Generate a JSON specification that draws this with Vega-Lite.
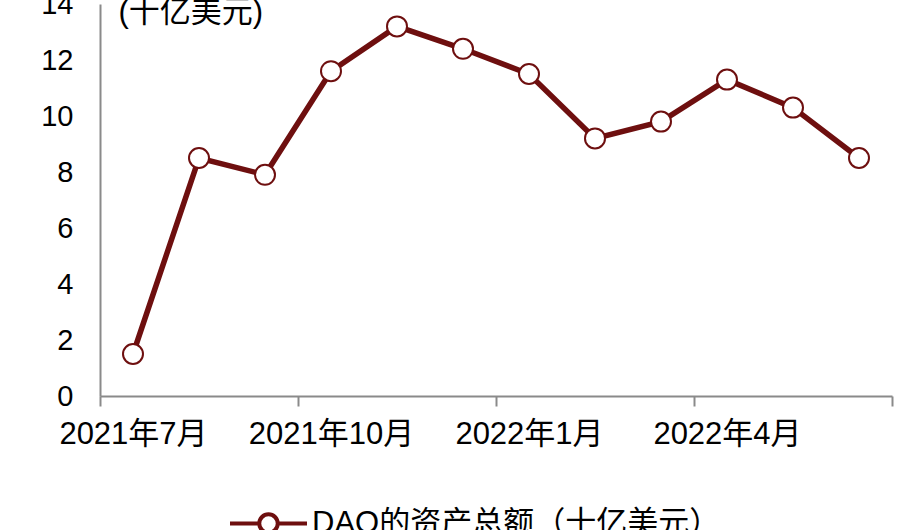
{
  "$schema": "https://vega.github.io/schema/vega-lite/v6.json",
  "autosize": "none",
  "width": 792,
  "height": 392,
  "padding": {"left": 100, "top": 4, "right": 28, "bottom": 134},
  "background": "white",
  "config": {
    "view": {"stroke": null},
    "font": "Liberation Sans, Noto Sans CJK SC",
    "axis": {"labelFont": "Liberation Sans, Noto Sans CJK SC", "titleFont": "Liberation Sans, Noto Sans CJK SC", "labelColor": "#000", "titleColor": "#000", "domainColor": "#8a8a8a", "tickColor": "#8a8a8a", "domainWidth": 2, "tickWidth": 2, "grid": false},
    "legend": {"labelFont": "Liberation Sans, Noto Sans CJK SC"}
  },
  "data": {
    "values": [
      {"month": "2021年7月", "idx": 0, "value": 1.5},
      {"month": "2021年8月", "idx": 1, "value": 8.5},
      {"month": "2021年9月", "idx": 2, "value": 7.9},
      {"month": "2021年10月", "idx": 3, "value": 11.6},
      {"month": "2021年11月", "idx": 4, "value": 13.2},
      {"month": "2021年12月", "idx": 5, "value": 12.4},
      {"month": "2022年1月", "idx": 6, "value": 11.5},
      {"month": "2022年2月", "idx": 7, "value": 9.2},
      {"month": "2022年3月", "idx": 8, "value": 9.8},
      {"month": "2022年4月", "idx": 9, "value": 11.3},
      {"month": "2022年5月", "idx": 10, "value": 10.3},
      {"month": "2022年6月", "idx": 11, "value": 8.5}
    ]
  },
  "encoding": {
    "x": {
      "field": "idx", "type": "quantitative",
      "scale": {"domain": [-0.5, 11.5], "nice": false, "zero": false},
      "axis": {
        "title": null,
        "values": [-0.5, 0, 2.5, 3, 5.5, 6, 8.5, 9, 11.5],
        "labelExpr": "datum.value == 0 ? '2021年7月' : datum.value == 3 ? '2021年10月' : datum.value == 6 ? '2022年1月' : datum.value == 9 ? '2022年4月' : ''",
        "tickOpacity": {"condition": {"test": "datum.value % 1 == 0", "value": 0}, "value": 1},
        "tickSize": 10,
        "labelPadding": 13,
        "labelFontSize": 31,
        "labelOverlap": false,
        "labelFlush": false,
        "labelBound": false
      }
    },
    "y": {
      "field": "value", "type": "quantitative",
      "scale": {"domain": [0, 14], "nice": false},
      "axis": {
        "values": [0, 2, 4, 6, 8, 10, 12, 14],
        "ticks": false,
        "labelPadding": 27,
        "labelFontSize": 29,
        "title": "(十亿美元)",
        "titleAngle": 0,
        "titleAlign": "left",
        "titleBaseline": "alphabetic",
        "titleX": 18,
        "titleY": 17,
        "titleFontSize": 31,
        "titleFontWeight": "normal"
      }
    },
    "stroke": {
      "datum": "DAO的资产总额（十亿美元）",
      "type": "nominal",
      "scale": {"range": ["#6e0f0f"]},
      "legend": {
        "title": null,
        "orient": "none",
        "legendX": 128,
        "legendY": 479,
        "symbolType": "M-1,0L-0.24,0M0.24,0L1,0M-0.24,0A0.24,0.24,0,1,0,0.24,0A0.24,0.24,0,1,0,-0.24,0Z",
        "symbolSize": 5929,
        "symbolStrokeWidth": 4,
        "symbolFillColor": "white",
        "labelFontSize": 31,
        "labelOffset": 3,
        "labelLimit": 600,
        "labelColor": "#000"
      }
    }
  },
  "layer": [
    {"mark": {"type": "line", "strokeWidth": 5.5}},
    {"mark": {"type": "point", "filled": true, "fill": "white", "strokeWidth": 2, "size": 400, "opacity": 1}}
  ]
}
